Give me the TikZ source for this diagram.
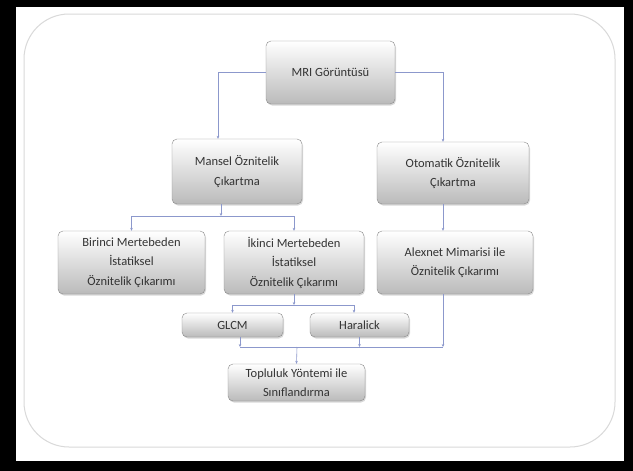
\documentclass[tikz,border=0pt]{standalone}
\usepackage{fontspec}
\setmainfont{Carlito}
\usetikzlibrary{arrows.meta,shadows}

\definecolor{linkblue}{HTML}{8C98CC}
\definecolor{boxedge}{HTML}{8A8A8A}
\definecolor{boxtext}{HTML}{333333}

\tikzset{
  box/.style={draw=boxedge, rounded corners=5pt, top color=white, bottom color=black!27,
    drop shadow={shadow xshift=1pt, shadow yshift=-1.5pt, opacity=0.3},
    text=boxtext, align=center, inner sep=0pt,
    font=\fontsize{12.5}{19.5}\selectfont},
  link/.style={linkblue, line width=0.6pt},
  arr/.style={link, -{Stealth[length=3pt,width=2.6pt]}}
}

\begin{document}
\begin{tikzpicture}[x=1pt, y=-1pt]
\useasboundingbox (0,0) rectangle (633,471);
% frame and panel
\fill[black] (0,0) rectangle (633,471);
\fill[white] (16,7) rectangle (624,461);
\draw[black!15, line width=1pt, rounded corners=45pt] (24,14) rectangle (615,447);

% boxes
\node[box, minimum width=129pt, minimum height=63pt] (mri) at (330.5,72.5) {MRI Görüntüsü};
\node[box, minimum width=130pt, minimum height=65pt] (mansel) at (237,171.5) {Mansel Öznitelik\\Çıkartma};
\node[box, minimum width=152pt, minimum height=62pt] (otomatik) at (453,173) {Otomatik Öznitelik\\Çıkartma};

\node[box, minimum width=147pt, minimum height=63pt] (birinci) at (131.5,262.5) {Birinci Mertebeden\\İstatiksel\\Öznitelik Çıkarımı};
\node[box, minimum width=140pt, minimum height=63pt] (ikinci) at (294,262.5) {İkinci Mertebeden\\İstatiksel\\Öznitelik Çıkarımı};
\node[box, minimum width=156pt, minimum height=63pt] (alexnet) at (455,262.5) {Alexnet Mimarisi ile\\Öznitelik Çıkarımı};

\node[box, minimum width=101pt, minimum height=24pt] (glcm) at (232.5,325) {GLCM};
\node[box, minimum width=99pt, minimum height=24pt] (haralick) at (359.5,325) {Haralick};
\node[box, minimum width=137pt, minimum height=37pt] (topluluk) at (296.5,382.5) {Topluluk Yöntemi ile\\Sınıflandırma};

% drop points of the connectors
\coordinate (mleft) at (218,0);
\coordinate (mright) at (443,0);
\coordinate (mbus) at (221,216);
\coordinate (ibus) at (294,305);
\coordinate (hin) at (354,0);
\coordinate (gout) at (240,0);
\coordinate (bbus) at (297,347);

% MRI to the two branches
\draw[arr] (mri.west) -| (mansel.north -| mleft);
\draw[arr] (mri.east) -| (otomatik.north -| mright);

% manual branch
\draw[arr] (mansel.south -| mbus) -- (mbus);
\draw[arr] (mbus) -| (birinci.north);
\draw[arr] (mbus) -| (ikinci.north);
\draw[arr] (ikinci.south) -- (ibus);
\draw[arr] (ibus) -| (glcm.north);
\draw[arr] (ibus) -| (haralick.north -| hin);

% automatic branch
\draw[arr] (otomatik.south -| mright) -- (alexnet.north -| mright);

% into the ensemble
\draw[arr] (glcm.south -| gout) -- (gout |- bbus);
\draw[arr] (haralick.south) -- (haralick.south |- bbus);
\draw[arr] (alexnet.south -| mright) -- (mright |- bbus);
\draw[link] (gout |- bbus) -- (mright |- bbus);
\draw[arr] (bbus) -- (topluluk.north);

\end{tikzpicture}
\end{document}
